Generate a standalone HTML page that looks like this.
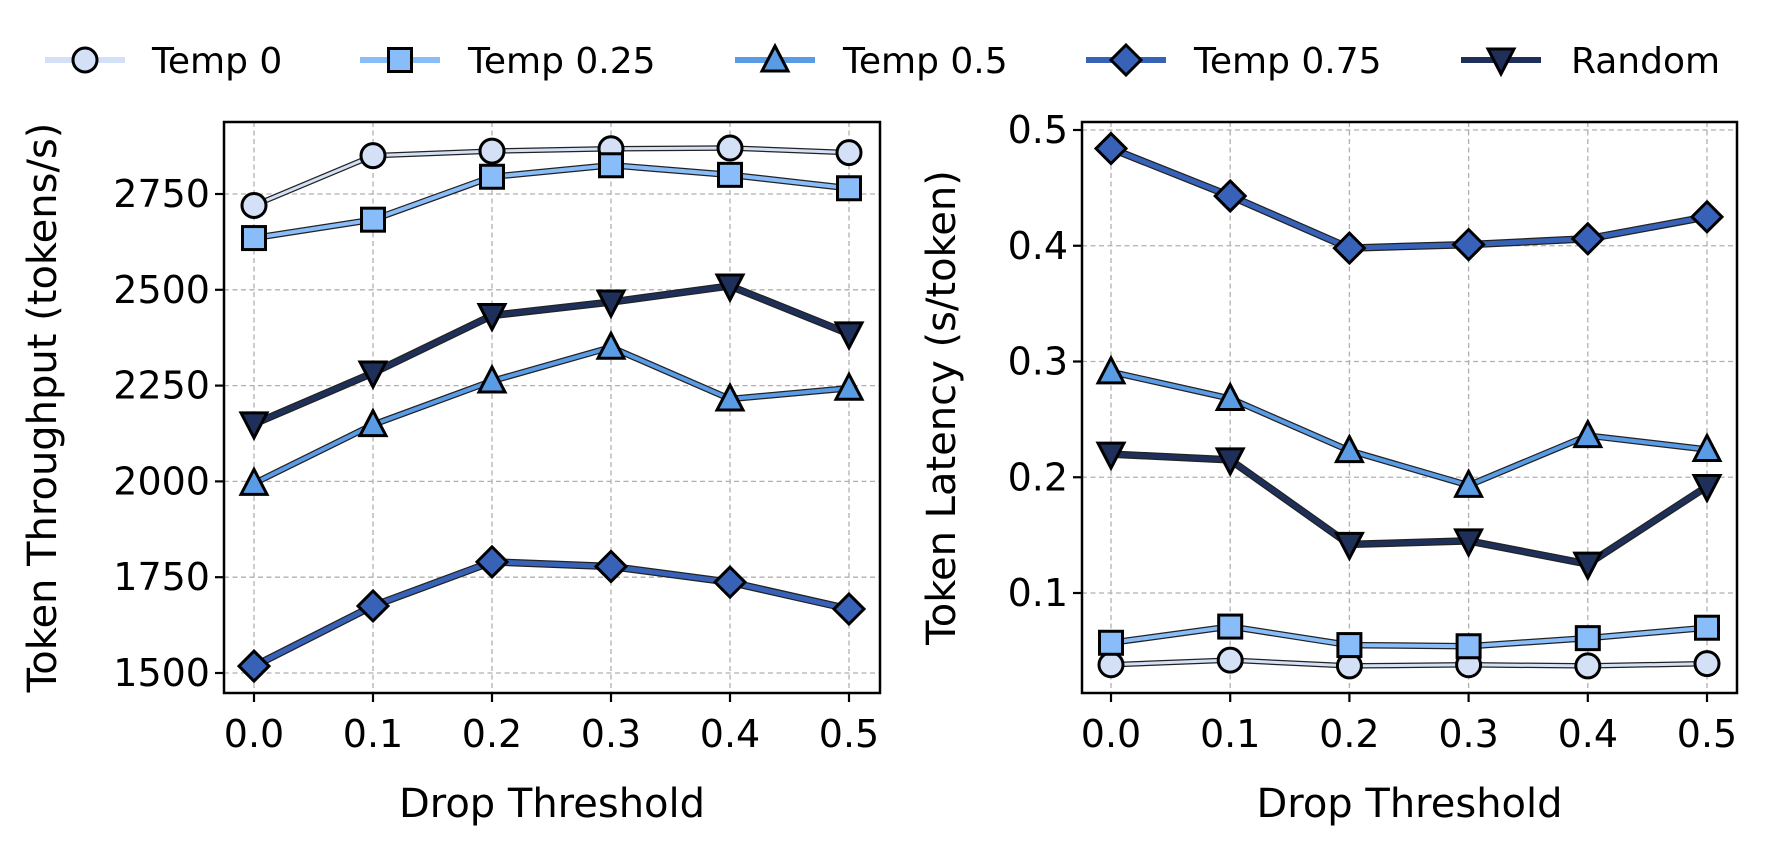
<!DOCTYPE html>
<html><head><meta charset="utf-8"><style>
body{margin:0;background:#fff}
svg{display:block;font-family:"DejaVu Sans","Liberation Sans",sans-serif}
</style></head><body>
<svg id="chart" width="1769" height="853" viewBox="0 0 1769 853" xmlns="http://www.w3.org/2000/svg"></svg>
<script>
const xCats = [0.0, 0.1, 0.2, 0.3, 0.4, 0.5];
const xTickLabels = ["0.0","0.1","0.2","0.3","0.4","0.5"];
const seriesNames = ["Temp 0","Temp 0.25","Temp 0.5","Temp 0.75","Random"];
const thrTemp0 = [2720, 2850, 2862, 2868, 2870, 2858];
const thrTemp025 = [2635, 2683, 2795, 2825, 2800, 2765];
const thrTemp05 = [1995, 2148, 2262, 2350, 2215, 2243];
const thrTemp075 = [1518, 1675, 1790, 1778, 1737, 1667];
const thrRandom = [2150, 2283, 2433, 2468, 2510, 2385];
const latTemp0 = [0.038, 0.042, 0.037, 0.038, 0.037, 0.039];
const latTemp025 = [0.057, 0.071, 0.055, 0.054, 0.061, 0.070];
const latTemp05 = [0.291, 0.268, 0.223, 0.193, 0.236, 0.224];
const latTemp075 = [0.484, 0.443, 0.398, 0.401, 0.406, 0.425];
const latRandom = [0.220, 0.215, 0.142, 0.145, 0.125, 0.192];
const thrTicks = [1500, 1750, 2000, 2250, 2500, 2750];
const thrTickLabels = ["1500","1750","2000","2250","2500","2750"];
const latTicks = [0.1, 0.2, 0.3, 0.4, 0.5];
const latTickLabels = ["0.1","0.2","0.3","0.4","0.5"];

const colors = ["#d4e0f6","#89bdfa","#5a9be6","#3762b8","#1e3059"];
const markers = ["circle","square","triangle","diamond","tridown"];
const widths = [3,4,4,5,5];
const NS="http://www.w3.org/2000/svg";
const svg=document.getElementById('chart');
function mk(tag,attrs,parent){const e=document.createElementNS(NS,tag);for(const k in attrs)e.setAttribute(k,attrs[k]);(parent||svg).appendChild(e);return e;}

function marker(g,type,x,y,fill){
  const st={fill:fill,stroke:"#000","stroke-width":3};
  let e;
  if(type==="circle") e=mk('circle',Object.assign({cx:x,cy:y,r:12},st),g);
  else if(type==="square") e=mk('rect',Object.assign({x:x-11.5,y:y-11.5,width:23,height:23},st),g);
  else if(type==="triangle") e=mk('polygon',Object.assign({points:`${x},${y-14} ${x+13},${y+11} ${x-13},${y+11}`},st),g);
  else if(type==="diamond") e=mk('polygon',Object.assign({points:`${x},${y-15} ${x+15},${y} ${x},${y+15} ${x-15},${y}`},st),g);
  else e=mk('polygon',Object.assign({points:`${x-13},${y-11} ${x+13},${y-11} ${x},${y+14}`},st),g);
  return e;
}

function panel(name,L,R,T,B,xs,ytx,ymin,ymax,ticks,tickLabels,series,ytitle){
  const sx=v=>xs[0]+(v-xCats[0])/(xCats[5]-xCats[0])*(xs[1]-xs[0]);
  const sy=v=>B-(v-ymin)/(ymax-ymin)*(B-T);
  const g=mk('g',{});
  
  
  xCats.forEach((c,i)=>{
    const x=sx(c);
    const gl=mk('line',{x1:x,x2:x,y1:T,y2:B,stroke:"#b0b0b0","stroke-width":1.3,"stroke-dasharray":"5,3.5"},g);
    
    mk('line',{x1:x,x2:x,y1:B,y2:B+9,stroke:"#000","stroke-width":2.2},g);
    const t=mk('text',{x:x,y:B+54,"text-anchor":"middle","font-size":38},g);
    t.textContent=xTickLabels[i];
    
  });
  ticks.forEach((v,i)=>{
    const y=sy(v);
    const gl=mk('line',{x1:L,x2:R,y1:y,y2:y,stroke:"#b0b0b0","stroke-width":1.3,"stroke-dasharray":"5,3.5"},g);
    
    mk('line',{x1:L-9,x2:L,y1:y,y2:y,stroke:"#000","stroke-width":2.2},g);
    const t=mk('text',{x:L-14,y:y+13,"text-anchor":"end","font-size":38},g);
    t.textContent=tickLabels[i];
    
  });
  series.forEach((vals,si)=>{
    const pts=vals.map((v,i)=>sx(xCats[i])+","+sy(v)).join(" ");
    mk('polyline',{points:pts,fill:"none",stroke:"#222","stroke-width":widths[si]+2.5,"stroke-linejoin":"round"},g);
    const pl=mk('polyline',{points:pts,fill:"none",stroke:colors[si],"stroke-width":widths[si],"stroke-linejoin":"round"},g);
    
    
    vals.forEach((v,i)=>{
      const m=marker(g,markers[si],sx(xCats[i]),sy(v),colors[si]);
      
      
    });
  });
  const fr=mk('rect',{x:L,y:T,width:R-L,height:B-T,fill:"none",stroke:"#000","stroke-width":2.5},g);
  
  const xt=mk('text',{x:(L+R)/2,y:B+124,"text-anchor":"middle","font-size":40},g);
  xt.textContent="Drop Threshold";
  
  const yt=mk('text',{x:0,y:0,"text-anchor":"middle","font-size":40,transform:`translate(${ytx},${(T+B)/2}) rotate(-90)`},g);
  yt.textContent=ytitle;
  
}

panel("throughput-panel",224,880,122,693,[254,849],56,1500-20/95.8*250,2750+72/95.8*250,thrTicks,thrTickLabels,
  [thrTemp0,thrTemp025,thrTemp05,thrTemp075,thrRandom],"Token Throughput (tokens/s)");
panel("latency-panel",1082,1737,122,693,[1111,1707],955,0.1-100/1157.5,0.5+8/1157.5,latTicks,latTickLabels,
  [latTemp0,latTemp025,latTemp05,latTemp075,latRandom],"Token Latency (s/token)");

// legend
const legX=[85,400,775,1126,1501];
const legTX=[152,468,843,1194,1571];
const lg=mk('g',{});


seriesNames.forEach((n,i)=>{
  const y=60;
  const e=mk('g',{},lg);
  
  
  mk('line',{x1:legX[i]-40,x2:legX[i]+40,y1:y,y2:y,stroke:colors[i],"stroke-width":6},e);
  marker(e,markers[i],legX[i],y,colors[i]);
  const t=mk('text',{x:legTX[i],y:y+13,"font-size":36},e);
  t.textContent=n;
});
</script>
</body></html>
